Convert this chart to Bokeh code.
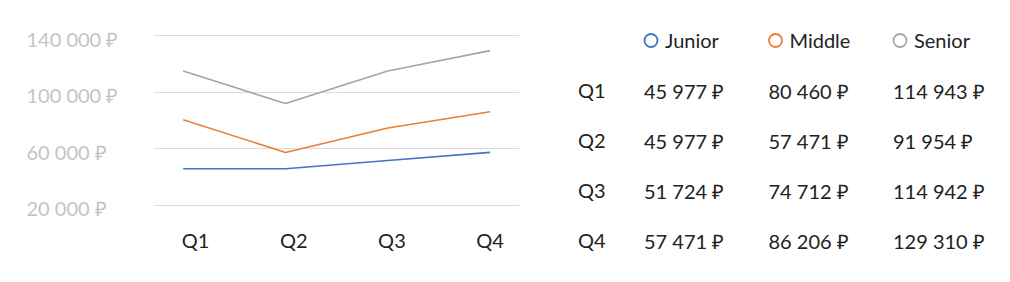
from bokeh.plotting import figure
from bokeh.models import Range1d, FixedTicker, Grid
from bokeh.layouts import row
from bokeh.core.properties import value
from bokeh.embed import file_html
from bokeh.resources import INLINE

# ---- data ----
quarters = ["Q1", "Q2", "Q3", "Q4"]
series_names = ["Junior", "Middle", "Senior"]
junior = [45977, 45977, 51724, 57471]
middle = [80460, 57471, 74712, 86206]
senior = [114943, 91954, 114942, 129310]
y_ticks = [20000, 60000, 100000, 140000]

colors = ["#4472C4", "#ED7D31", "#A5A5A5"]
FONT = "Lato"
TXT = "#222222"


def rub(v):
    return f"{v:,}".replace(",", " ") + " ₽"


all_series = [junior, middle, senior]
xs = list(range(len(quarters)))

# ---- line chart (frame covers the whole left figure) ----
XR = Range1d(-1.786, 3.493)
YR = Range1d(-34353, 164706)
p = figure(width=540, height=282, output_backend="svg", toolbar_location=None,
           x_range=XR, y_range=YR,
           x_axis_location=None, y_axis_location=None,
           min_border_left=0, min_border_right=0,
           min_border_top=0, min_border_bottom=0)
p.outline_line_color = None
p.background_fill_color = "white"
p.border_fill_color = "white"
for g in list(p.grid):
    g.visible = False

grid = Grid(dimension=1, ticker=FixedTicker(ticks=y_ticks),
            grid_line_color="#dcdcdc", grid_line_width=1)
if "cross_bounds" in Grid.properties():
    grid.cross_bounds = (-0.281, 3.287)
    p.add_layout(grid)
else:
    p.segment(x0=[-0.281] * len(y_ticks), x1=[3.287] * len(y_ticks),
              y0=y_ticks, y1=y_ticks, line_color="#dcdcdc", line_width=1)

for s, c in zip(all_series, colors):
    p.line(xs, s, line_color=c, line_width=1.6)

# y tick labels (left aligned)
p.text(x=[XR.start] * len(y_ticks), y=y_ticks, text=[rub(v) for v in y_ticks],
       x_offset=26, y_offset=3, text_align="left", text_baseline="middle",
       text_font=value(FONT), text_font_size="20px", text_color="#c4c4c4")

# category labels on their own range
p.extra_x_ranges = {"lbl": Range1d(-1.986, 3.513)}
p.text(x=xs, y=[YR.start] * len(xs), text=quarters, x_range_name="lbl",
       y_offset=-43, text_align="center", text_baseline="middle",
       text_font=value(FONT), text_font_size="20px", text_color=TXT)

# ---- table ----
t = figure(width=470, height=282, output_backend="svg", toolbar_location=None,
           x_range=Range1d(-0.2449, 2.8876), y_range=Range1d(4.8497, -0.8016),
           x_axis_location=None, y_axis_location="left",
           min_border_left=80, min_border_right=0,
           min_border_top=0, min_border_bottom=0)
t.outline_line_color = None
t.xgrid.visible = False
t.ygrid.visible = False
t.background_fill_color = "white"
t.border_fill_color = "white"

yax = t.yaxis[0]
yax.ticker = FixedTicker(ticks=[i + 1 for i in range(len(quarters))])
yax.major_label_overrides = {i + 1: q for i, q in enumerate(quarters)}
yax.axis_line_color = None
yax.major_tick_line_color = None
yax.minor_tick_line_color = None
yax.major_tick_out = 0
yax.major_tick_in = 0
yax.major_label_standoff = 15
yax.major_label_text_font = FONT
yax.major_label_text_font_size = "20px"
yax.major_label_text_color = TXT

cx, cy, ct = [], [], []
for ci, s in enumerate(all_series):
    for ri, v in enumerate(s):
        cx.append(ci)
        cy.append(ri + 1)
        ct.append(rub(v))
t.text(x=cx, y=cy, text=ct, x_offset=-7, y_offset=1, text_align="left",
       text_baseline="middle", text_font=value(FONT),
       text_font_size="20px", text_color=TXT)

hx = list(range(len(series_names)))
hy = [0] * len(series_names)
t.scatter(x=hx, y=hy, marker="circle", size=13, fill_color=None,
          line_color=colors, line_width=1.8)
t.text(x=hx, y=hy, text=series_names, x_offset=14, y_offset=-0.5,
       text_align="left", text_baseline="middle", text_font=value(FONT),
       text_font_size="20px", text_color=TXT)

layout = row(p, t)
open("out.html", "w").write(file_html(layout, INLINE))
